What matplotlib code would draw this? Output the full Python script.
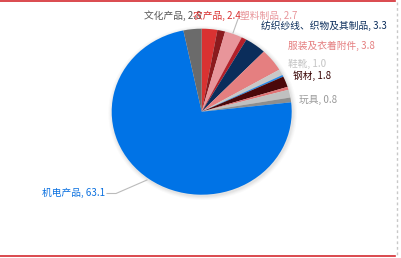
import matplotlib
matplotlib.use("Agg")
import matplotlib.pyplot as plt
from matplotlib.patches import Ellipse
from matplotlib.lines import Line2D

plt.rcParams['font.family'] = ['Noto Sans CJK SC', 'DejaVu Sans']

# ---- data (clockwise from 12 o'clock) ----
names = ['农产品', '其他1', '塑料制品', '其他2', '纺织纱线、织物及其制品', '服装及衣着附件',
         '鞋靴', '其他3', '钢材', '其他4', '其他5', '玩具', '机电产品', '文化产品']
values = [2.4, 1.2, 2.7, 0.8, 3.3, 3.8, 1.0, 0.3, 1.8, 0.5, 1.3, 0.8, 63.1, 2.8]
show_label = [True, False, True, False, True, True, True, False, True, False, False, True, True, True]

# ---- styles ----
colors = ['#d93232', '#8b1a1e', '#e8959a', '#b4202a', '#0b2d5b', '#e57f80',
          '#c8c8c8', '#2288e8', '#4a080a', '#e07274', '#c0c0c0', '#8e8e8e', '#0073e6', '#6b6b6b']
label_colors = ['#d93232', None, '#e8959a', None, '#0b2d5b', '#e57f80',
                '#c4c4c4', None, '#3a0606', None, None, '#999999', '#0a70e0', '#555555']

W, H = 401, 258
CX, CY, RX, RY = 201.7, 111.7, 90.0, 83.0

def px(x, y):
    return (x - CX) / RX, (CY - y) / RY

fig = plt.figure(figsize=(W / 100, H / 100), dpi=100)
ax = fig.add_axes([0, 0, 1, 1])

# soft shadow
for i, a in enumerate([0.035, 0.03, 0.025, 0.02]):
    s = 1 + 0.012 * (i + 1)
    ax.add_patch(Ellipse((0.01, -0.015), 2 * s, 2 * s, facecolor='black', alpha=a,
                         edgecolor='none', zorder=0))

ax.pie(values, colors=colors, startangle=90, counterclock=False, radius=1, center=(0, 0),
       wedgeprops=dict(linewidth=0, zorder=1), frame=False)
ax.set_aspect('auto')
x0, _ = px(0, 0); x1, _ = px(W, 0)
_, y0 = px(0, H); _, y1 = px(0, 0)
ax.set_xlim(x0, x1)
ax.set_ylim(y0, y1)
ax.axis('off')

# label layout (pixel positions: x, y, horizontal alignment)
label_pos = {
    '文化产品': (144, 15.5, 'left'),
    '农产品': (193, 15.5, 'left'),
    '塑料制品': (240, 15.5, 'left'),
    '纺织纱线、织物及其制品': (261, 25.5, 'left'),
    '服装及衣着附件': (288.5, 45.5, 'left'),
    '鞋靴': (288.5, 64, 'left'),
    '钢材': (293, 76, 'left'),
    '玩具': (299, 100, 'left'),
    '机电产品': (105.5, 192.5, 'right'),
}
order = ['文化产品', '农产品', '塑料制品', '纺织纱线、织物及其制品', '服装及衣着附件',
         '鞋靴', '钢材', '玩具', '机电产品']
for nm in order:
    i = names.index(nm)
    if not show_label[i]:
        continue
    x, y, ha = label_pos[nm]
    X, Y = px(x, y)
    ax.text(X, Y, f'{nm}, {values[i]:.1f}', color=label_colors[i], fontsize=7,
            ha=ha, va='center', zorder=5)

# leader lines
leaders = [[(238, 19), (233, 33)], [(107, 193.5), (116, 193.5), (147, 180)]]
for pts in leaders:
    xs, ys = zip(*[px(*p) for p in pts])
    ax.add_line(Line2D(xs, ys, color='#bbbbbb', lw=0.8, zorder=2))

# frame lines
ax.add_line(Line2D([px(0, 0)[0], px(395, 0)[0]], [px(0, 1.2)[1]] * 2, color='#d42a30', lw=1.2, zorder=6))
ax.add_line(Line2D([px(0, 0)[0], px(395, 0)[0]], [px(0, 255.5)[1]] * 2, color='#d42a30', lw=1.2, zorder=6))
ax.add_line(Line2D([px(397.5, 0)[0]] * 2, [px(0, 2)[1], px(0, 255)[1]], color='#c8c8c8', lw=1.0,
                   ls=(0, (2, 2)), zorder=6))

fig.savefig('out.png', dpi=100)
